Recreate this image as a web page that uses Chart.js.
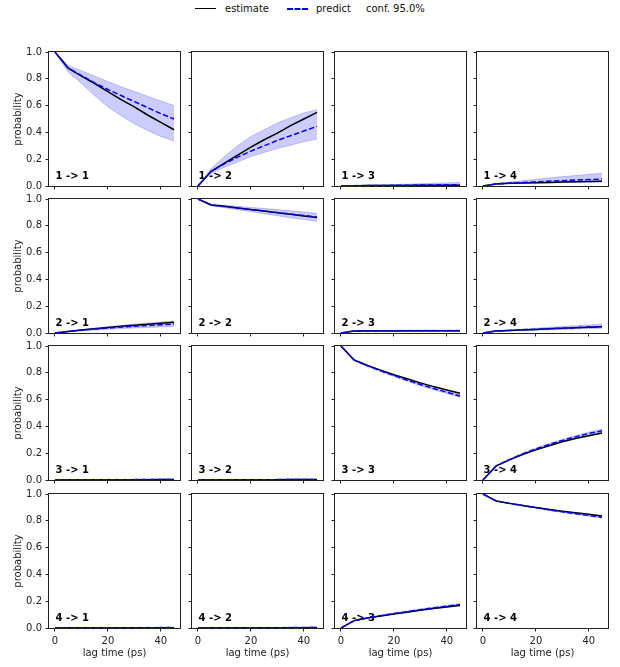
<!DOCTYPE html>
<html>
<head>
<meta charset="utf-8">
<title>CK test</title>
<script src="https://cdn.jsdelivr.net/npm/chart.js@4.4.0/dist/chart.umd.min.js"></script>
<style>
    body { margin: 0; background: #fff; font-family: "DejaVu Sans", sans-serif; }
    #page { position: relative; width: 620px; height: 667px; overflow: hidden; }
    .panel { position: absolute; }
    .lg-text { position: absolute; top: 3px; font-size: 10px; line-height: 12px; color: #111; white-space: nowrap; }
    .lg-line { position: absolute; top: 8px; width: 21px; height: 0; }
</style>
</head>
<body>
<div id="page">
    <div class="lg-line" style="left:195px; border-top:1.5px solid #000;"></div>
    <div class="lg-text" style="left:225px;">estimate</div>
    <div class="lg-line" style="left:287px; border-top:2px dashed #00f;"></div>
    <div class="lg-text" style="left:316px;">predict</div>
    <div class="lg-text" style="left:366px;">conf. 95.0%</div>
</div>
<script>
// lag times (ps) and tick labels
const lagTimes = [0, 5, 10, 15, 20, 25, 30, 35, 40, 45];
const xTicks = [0, 20, 40];
const states = [1, 2, 3, 4];

// row 1: from state 1
const est11 = [1.0, 0.88, 0.82, 0.765, 0.705, 0.645, 0.59, 0.53, 0.475, 0.42];
const pred11 = [1.0, 0.88, 0.825, 0.77, 0.72, 0.675, 0.63, 0.585, 0.54, 0.50];
const lo11 = [1.0, 0.85, 0.765, 0.675, 0.59, 0.525, 0.465, 0.415, 0.37, 0.335];
const hi11 = [1.0, 0.90, 0.86, 0.82, 0.78, 0.74, 0.705, 0.67, 0.635, 0.60];

const est12 = [0, 0.11, 0.17, 0.23, 0.29, 0.345, 0.395, 0.45, 0.50, 0.55];
const pred12 = [0, 0.11, 0.165, 0.215, 0.26, 0.30, 0.34, 0.375, 0.41, 0.445];
const lo12 = [0, 0.095, 0.14, 0.18, 0.22, 0.25, 0.28, 0.305, 0.33, 0.35];
const hi12 = [0, 0.13, 0.22, 0.30, 0.37, 0.42, 0.47, 0.51, 0.545, 0.57];

const est13 = [0, 0.002, 0.003, 0.003, 0.004, 0.004, 0.005, 0.005, 0.006, 0.006];
const pred13 = [0, 0.002, 0.003, 0.004, 0.005, 0.006, 0.007, 0.008, 0.009, 0.010];
const lo13 = [0, 0.001, 0.002, 0.002, 0.003, 0.003, 0.003, 0.004, 0.004, 0.004];
const hi13 = [0, 0.004, 0.006, 0.008, 0.011, 0.014, 0.017, 0.020, 0.023, 0.026];

const est14 = [0, 0.015, 0.02, 0.022, 0.025, 0.027, 0.03, 0.032, 0.034, 0.035];
const pred14 = [0, 0.015, 0.021, 0.026, 0.031, 0.036, 0.04, 0.044, 0.048, 0.052];
const lo14 = [0, 0.012, 0.016, 0.019, 0.021, 0.023, 0.025, 0.027, 0.028, 0.03];
const hi14 = [0, 0.02, 0.03, 0.04, 0.05, 0.06, 0.07, 0.078, 0.087, 0.095];

// row 2: from state 2
const est21 = [0, 0.012, 0.022, 0.032, 0.041, 0.05, 0.058, 0.066, 0.073, 0.08];
const pred21 = [0, 0.012, 0.021, 0.029, 0.037, 0.044, 0.05, 0.056, 0.061, 0.066];
const lo21 = [0, 0.009, 0.016, 0.022, 0.028, 0.033, 0.037, 0.041, 0.045, 0.048];
const hi21 = [0, 0.015, 0.026, 0.037, 0.047, 0.057, 0.066, 0.074, 0.082, 0.09];

const est22 = [1.0, 0.955, 0.945, 0.933, 0.922, 0.91, 0.898, 0.886, 0.874, 0.862];
const pred22 = [1.0, 0.955, 0.944, 0.932, 0.921, 0.91, 0.899, 0.888, 0.877, 0.866];
const lo22 = [1.0, 0.95, 0.935, 0.92, 0.905, 0.89, 0.875, 0.86, 0.847, 0.833];
const hi22 = [1.0, 0.96, 0.953, 0.945, 0.937, 0.929, 0.921, 0.912, 0.903, 0.893];

const est23 = [0, 0.015, 0.015, 0.015, 0.015, 0.016, 0.016, 0.016, 0.017, 0.017];
const pred23 = [0, 0.015, 0.016, 0.016, 0.016, 0.016, 0.017, 0.017, 0.017, 0.017];
const lo23 = [0, 0.012, 0.013, 0.013, 0.013, 0.012, 0.012, 0.012, 0.012, 0.012];
const hi23 = [0, 0.018, 0.019, 0.02, 0.02, 0.021, 0.021, 0.022, 0.022, 0.023];

const est24 = [0, 0.015, 0.019, 0.023, 0.027, 0.031, 0.035, 0.039, 0.043, 0.047];
const pred24 = [0, 0.015, 0.019, 0.024, 0.028, 0.032, 0.036, 0.04, 0.044, 0.048];
const lo24 = [0, 0.012, 0.015, 0.018, 0.021, 0.024, 0.027, 0.03, 0.033, 0.036];
const hi24 = [0, 0.018, 0.024, 0.03, 0.036, 0.042, 0.048, 0.054, 0.06, 0.066];

// row 3: from state 3
const est31 = [0, 0.001, 0.001, 0.001, 0.002, 0.002, 0.002, 0.002, 0.003, 0.003];
const pred31 = [0, 0.001, 0.001, 0.002, 0.002, 0.002, 0.003, 0.003, 0.003, 0.003];
const lo31 = [0, 0, 0, 0.001, 0.001, 0.001, 0.001, 0.001, 0.001, 0.001];
const hi31 = [0, 0.002, 0.003, 0.003, 0.004, 0.004, 0.005, 0.005, 0.006, 0.006];

const est32 = [0, 0.001, 0.001, 0.002, 0.002, 0.002, 0.002, 0.003, 0.003, 0.003];
const pred32 = [0, 0.001, 0.001, 0.002, 0.002, 0.002, 0.003, 0.003, 0.003, 0.004];
const lo32 = [0, 0, 0, 0.001, 0.001, 0.001, 0.001, 0.001, 0.001, 0.001];
const hi32 = [0, 0.002, 0.003, 0.003, 0.004, 0.004, 0.005, 0.005, 0.006, 0.006];

const est33 = [1.0, 0.895, 0.855, 0.82, 0.785, 0.755, 0.725, 0.697, 0.672, 0.647];
const pred33 = [1.0, 0.895, 0.853, 0.815, 0.78, 0.745, 0.713, 0.683, 0.655, 0.627];
const lo33 = [1.0, 0.892, 0.848, 0.809, 0.773, 0.737, 0.704, 0.673, 0.645, 0.616];
const hi33 = [1.0, 0.898, 0.858, 0.821, 0.787, 0.753, 0.722, 0.693, 0.665, 0.638];

const est34 = [0, 0.105, 0.15, 0.19, 0.225, 0.255, 0.285, 0.31, 0.33, 0.35];
const pred34 = [0, 0.105, 0.152, 0.195, 0.232, 0.265, 0.295, 0.322, 0.347, 0.368];
const lo34 = [0, 0.102, 0.148, 0.19, 0.226, 0.258, 0.287, 0.313, 0.337, 0.357];
const hi34 = [0, 0.108, 0.156, 0.2, 0.238, 0.272, 0.303, 0.331, 0.357, 0.379];

// row 4: from state 4
const est41 = [0, 0.001, 0.001, 0.001, 0.001, 0.002, 0.002, 0.002, 0.002, 0.002];
const pred41 = [0, 0.001, 0.001, 0.001, 0.002, 0.002, 0.002, 0.002, 0.003, 0.003];
const lo41 = [0, 0, 0, 0, 0.001, 0.001, 0.001, 0.001, 0.001, 0.001];
const hi41 = [0, 0.002, 0.002, 0.003, 0.003, 0.004, 0.004, 0.005, 0.005, 0.005];

const est42 = [0, 0.001, 0.001, 0.001, 0.002, 0.002, 0.002, 0.002, 0.002, 0.003];
const pred42 = [0, 0.001, 0.001, 0.002, 0.002, 0.002, 0.002, 0.003, 0.003, 0.003];
const lo42 = [0, 0, 0, 0, 0.001, 0.001, 0.001, 0.001, 0.001, 0.001];
const hi42 = [0, 0.002, 0.002, 0.003, 0.003, 0.004, 0.004, 0.005, 0.005, 0.005];

const est43 = [0, 0.055, 0.075, 0.09, 0.105, 0.118, 0.132, 0.145, 0.157, 0.168];
const pred43 = [0, 0.055, 0.075, 0.092, 0.108, 0.122, 0.137, 0.15, 0.163, 0.175];
const lo43 = [0, 0.053, 0.072, 0.088, 0.104, 0.117, 0.132, 0.144, 0.157, 0.169];
const hi43 = [0, 0.057, 0.078, 0.096, 0.112, 0.127, 0.142, 0.156, 0.169, 0.181];

const est44 = [1.0, 0.948, 0.93, 0.915, 0.9, 0.885, 0.872, 0.86, 0.848, 0.836];
const pred44 = [1.0, 0.948, 0.93, 0.914, 0.898, 0.882, 0.867, 0.853, 0.84, 0.826];
const lo44 = [1.0, 0.946, 0.927, 0.91, 0.894, 0.877, 0.862, 0.847, 0.834, 0.82];
const hi44 = [1.0, 0.95, 0.933, 0.918, 0.902, 0.887, 0.872, 0.859, 0.846, 0.832];

// [estimate, predict, lower, upper] per panel
const panels = {
    '11': [est11, pred11, lo11, hi11], '12': [est12, pred12, lo12, hi12],
    '13': [est13, pred13, lo13, hi13], '14': [est14, pred14, lo14, hi14],
    '21': [est21, pred21, lo21, hi21], '22': [est22, pred22, lo22, hi22],
    '23': [est23, pred23, lo23, hi23], '24': [est24, pred24, lo24, hi24],
    '31': [est31, pred31, lo31, hi31], '32': [est32, pred32, lo32, hi32],
    '33': [est33, pred33, lo33, hi33], '34': [est34, pred34, lo34, hi34],
    '41': [est41, pred41, lo41, hi41], '42': [est42, pred42, lo42, hi42],
    '43': [est43, pred43, lo43, hi43], '44': [est44, pred44, lo44, hi44]
};

// plot area placement
const colLeft = [49, 192, 335, 477];
const rowTop = [52, 199, 346, 494];
const plotW = 131;
const plotH = 134;

const ink = '#222';
const band = 'rgba(0, 0, 255, 0.2)';

Chart.defaults.font.family = '"DejaVu Sans", sans-serif';
Chart.defaults.font.size = 10;
Chart.defaults.color = ink;

const framePlugin = {
    id: 'frame',
    beforeDatasetsDraw(chart, args, opts) {
        const { ctx, chartArea: a } = chart;
        ctx.save();
        ctx.font = 'bold 10px "DejaVu Sans", sans-serif';
        ctx.fillStyle = '#000';
        ctx.textBaseline = 'alphabetic';
        ctx.fillText(opts.label, a.left + 0.05 * (a.right - a.left), a.bottom - 0.05 * (a.bottom - a.top));
        ctx.restore();
    },
    afterDraw(chart) {
        const { ctx, chartArea: a } = chart;
        ctx.save();
        ctx.strokeStyle = ink;
        ctx.lineWidth = 1;
        ctx.strokeRect(a.left - 0.5, a.top - 0.5, a.right - a.left + 1, a.bottom - a.top + 1);
        ctx.restore();
    }
};

function points(values) {
    return lagTimes.map((t, i) => ({ x: t, y: values[i] }));
}

// keep the plot box fixed: no extra room for half tick labels
function noPad(s) {
    s.paddingTop = 0;
    s.paddingBottom = 0;
    s.paddingLeft = 0;
    s.paddingRight = 0;
}

const page = document.getElementById('page');

states.forEach((from, r) => {
    states.forEach((to, c) => {
        const [est, pred, lo, hi] = panels['' + from + to];
        const padL = c === 0 ? colLeft[0] : 6;
        const padT = 8, padR = 6;
        const padB = r === 3 ? 38 : 6;

        const box = document.createElement('div');
        box.className = 'panel';
        box.style.left = (colLeft[c] - padL) + 'px';
        box.style.top = (rowTop[r] - padT) + 'px';
        box.style.width = (padL + plotW + padR) + 'px';
        box.style.height = (padT + plotH + padB) + 'px';
        const canvas = document.createElement('canvas');
        box.appendChild(canvas);
        page.appendChild(box);

        new Chart(canvas, {
            type: 'line',
            data: {
                datasets: [{
                    label: 'predict',
                    data: points(pred),
                    borderColor: '#0000ff',
                    borderWidth: 1.5,
                    borderDash: [5.5, 2.4],
                    pointRadius: 0,
                    fill: false,
                    order: 0
                }, {
                    label: 'estimate',
                    data: points(est),
                    borderColor: '#000000',
                    borderWidth: 1.5,
                    pointRadius: 0,
                    fill: false,
                    order: 1
                }, {
                    label: 'conf. 95.0%',
                    data: points(hi),
                    borderColor: band,
                    backgroundColor: band,
                    borderWidth: 1,
                    pointRadius: 0,
                    fill: '+1',
                    order: 2
                }, {
                    label: 'conf. lower',
                    data: points(lo),
                    borderColor: band,
                    borderWidth: 1,
                    pointRadius: 0,
                    fill: false,
                    order: 3
                }]
            },
            options: {
                responsive: true,
                maintainAspectRatio: false,
                animation: false,
                events: [],
                layout: { padding: { top: padT, right: padR, left: 0, bottom: 0 } },
                plugins: {
                    legend: { display: false },
                    tooltip: { enabled: false },
                    frame: { label: from + ' -> ' + to }
                },
                scales: {
                    x: {
                        type: 'linear',
                        min: -2.25,
                        max: 47.25,
                        afterBuildTicks: s => { s.ticks = xTicks.map(v => ({ value: v })); },
                        afterFit: s => { s.height = padB; noPad(s); },
                        grid: { drawOnChartArea: false, tickLength: 3.5, color: ink },
                        border: { display: false },
                        ticks: { display: r === 3, padding: 3.5, maxRotation: 0, autoSkip: false },
                        title: { display: r === 3, text: 'lag time (ps)', padding: { top: 0, bottom: 7 } }
                    },
                    y: {
                        min: 0,
                        max: 1,
                        afterFit: s => { s.width = padL; noPad(s); },
                        grid: { drawOnChartArea: false, tickLength: 3.5, color: ink },
                        border: { display: false },
                        ticks: { display: c === 0, stepSize: 0.2, padding: 3.5, callback: v => v.toFixed(1) },
                        title: { display: c === 0, text: 'probability', padding: { top: 12, bottom: 0 } }
                    }
                }
            },
            plugins: [framePlugin]
        });
    });
});
</script>
</body>
</html>
